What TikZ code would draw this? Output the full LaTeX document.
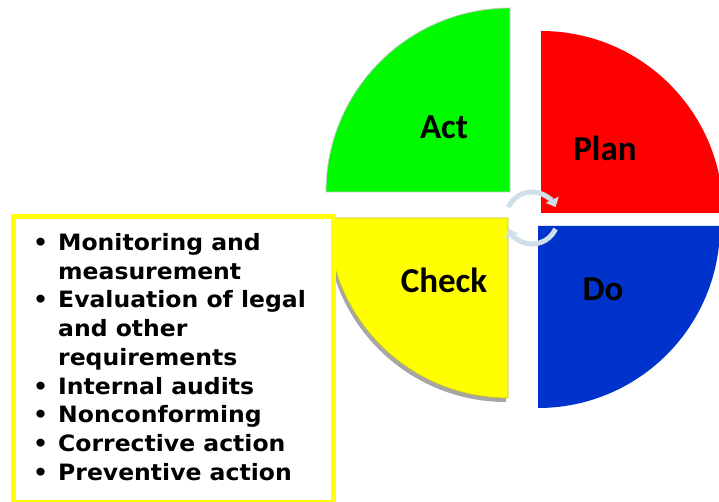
\documentclass[tikz,border=0pt]{standalone}
\usepackage{fontspec}
\setmainfont{DejaVu Sans}
\newfontfamily\quadfont{Carlito}
\newfontfamily\listfont[FakeStretch=1.045]{DejaVu Sans}
\usetikzlibrary{arrows.meta}

\definecolor{actgreen}{RGB}{0,250,0}
\definecolor{planred}{RGB}{255,0,0}
\definecolor{checkyellow}{RGB}{255,255,0}
\definecolor{doblue}{RGB}{0,51,204}
\definecolor{cyclearrow}{RGB}{208,224,232}
\definecolor{rimgray}{RGB}{200,200,200}

\tikzset{
  quadlabel/.style={font=\quadfont\bfseries\fontsize{35}{40}\selectfont, text=black, inner sep=0pt},
  cycle/.style={draw=cyclearrow, line width=5pt, -{Triangle[width=14pt,length=8pt]}},
  listbox/.style={draw=checkyellow, line width=5pt, fill=white},
}

\begin{document}
\begin{tikzpicture}[x=1pt,y=1pt]
\useasboundingbox (0,0) rectangle (719,502);
\clip (0,0) rectangle (719,502);

% quadrant corners (at the centre of the cycle)
\coordinate (actc) at (510,310);
\coordinate (planc) at (541,289);
\coordinate (checkc) at (508,284);
\coordinate (doc) at (538,276);
\coordinate (hub) at (532,284);

% Act
\fill[actgreen, draw=rimgray, line width=0.8pt]
  (actc) -- ++(-184,0) arc[start angle=180, end angle=90, radius=184] -- cycle;
% Plan
\fill[planred]
  (planc) -- ++(0,182) arc[start angle=90, end angle=0, radius=182] -- cycle;
% Check, with its drop shadow
\fill[gray!70]
  ([shift={(-2,-4)}]checkc) -- ++(-180,0) arc[start angle=180, end angle=270, radius=180] -- cycle;
\filldraw[fill=checkyellow, draw=yellow!75!black, line width=0.8pt]
  (checkc) -- ++(-180,0) arc[start angle=180, end angle=270, radius=180] -- cycle;
% Do
\fill[doblue]
  (doc) -- ++(0,-182) arc[start angle=270, end angle=360, radius=182] -- cycle;

% phase labels
\node[quadlabel] (act) at (444,375) {Act};
\node[quadlabel] (plan) at (605,354) {Plan};
\node[quadlabel] (check) at (444,222) {Check};
\node[quadlabel] (do) at (603,213) {Do};

% cycle arrows round the hub
\draw[cycle] ([shift={(155:26)}]hub) arc[start angle=155, end angle=25, radius=26];
\draw[cycle] ([shift={(-25:26)}]hub) arc[start angle=-25, end angle=-155, radius=26];

% list of Check activities
\node[listbox, minimum width=320pt, minimum height=286pt, anchor=north west, inner sep=0pt]
  (box) at (10.5,287.5) {};
\node[anchor=base west, inner sep=0pt, align=left] (items) at (33,251.5)
  {\listfont\fontsize{22.5}{28.75}\selectfont\bfseries
   \begin{tabular}[t]{@{}p{25pt}@{}l@{}}
   • & Monitoring and\\
     & measurement\\
   • & Evaluation of legal\\
     & and other\\
     & requirements\\
   • & Internal audits\\
   • & Nonconforming\\
   • & Corrective action\\
   • & Preventive action
   \end{tabular}};
\end{tikzpicture}
\end{document}
